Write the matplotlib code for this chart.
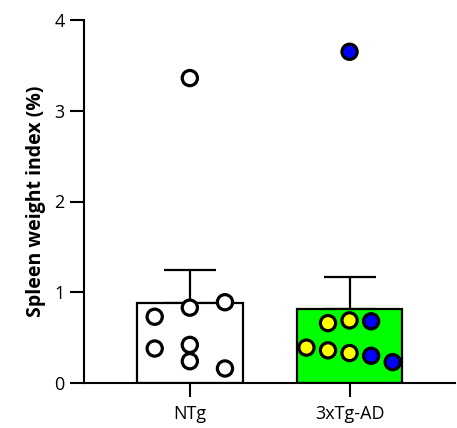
import numpy as np
import matplotlib
matplotlib.use("Agg")
import matplotlib.pyplot as plt

plt.rcParams['font.family'] = ['Open Sans', 'DejaVu Sans']

groups = ["NTg", "3xTg-AD"]
bar_colors = ["#FFFFFF", "#00FF00"]

# individual animals, spleen weight index (%)
ntg_vals = [3.36, 0.73, 0.83, 0.89, 0.38, 0.42, 0.24, 0.16]
tg_vals = [3.65, 0.66, 0.69, 0.68, 0.39, 0.36, 0.33, 0.30, 0.23]
ntg_dot_colors = ["white"] * 8
tg_dot_colors = ["blue", "yellow", "yellow", "blue", "yellow", "yellow", "yellow", "blue", "blue"]

# column (jitter slot) for each dot: -1 left, 0 middle, 1 right
ntg_cols = [0, -1, 0, 1, -1, 0, 0, 1]
tg_cols = [0, -1, 0, 1, -2, -1, 0, 1, 2]

values = [ntg_vals, tg_vals]
dot_colors = [ntg_dot_colors, tg_dot_colors]
cols = [ntg_cols, tg_cols]
slot_w = [0.22, 0.135]

fig = plt.figure(figsize=(4.57, 4.28), dpi=100)
ax = fig.add_axes([84 / 457, 1 - 383 / 428, 371 / 457, 363 / 428])

for i, vals in enumerate(values):
    v = np.array(vals)
    mean = v.mean()
    sem = v.std(ddof=1) / np.sqrt(len(v))
    ax.bar(i, mean, width=0.66, color=bar_colors[i], edgecolor="black",
           linewidth=1.6, zorder=2)
    ax.errorbar(i, mean, yerr=[[0], [sem]], fmt="none", ecolor="black",
                elinewidth=1.6, capsize=19, capthick=1.6, zorder=1)
    xs = i + np.array(cols[i]) * slot_w[i]
    ax.scatter(xs, v, s=120, c=dot_colors[i], edgecolors="black",
               linewidths=2.3, zorder=3, clip_on=False)

ax.set_xlim(-0.6625, 1.66)
ax.set_ylim(0, 4)
ax.set_yticks([0, 1, 2, 3, 4])
ax.set_xticks([0, 1])
ax.set_xticklabels(groups, fontsize=13)
ax.tick_params(axis="y", labelsize=13, length=10, width=1.5, pad=4)
ax.tick_params(axis="x", length=10, width=1.5, pad=6)
ax.set_ylabel("Spleen weight index (%)", fontsize=14, fontweight="bold", labelpad=6)

for s in ["top", "right"]:
    ax.spines[s].set_visible(False)
for s in ["left", "bottom"]:
    ax.spines[s].set_linewidth(1.5)

fig.savefig("out.png", dpi=100)
